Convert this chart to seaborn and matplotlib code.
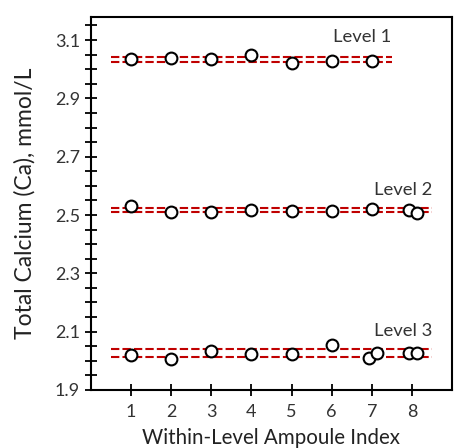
import numpy as np
import pandas as pd
import matplotlib
matplotlib.use("Agg")
import matplotlib.pyplot as plt
from matplotlib.ticker import MultipleLocator
import seaborn as sns

# ---- data ----
level1_x = [1, 2, 3, 4, 5, 6, 7]
level1_y = [3.035, 3.040, 3.035, 3.048, 3.022, 3.028, 3.028]
level2_x = [1, 2, 3, 4, 5, 6, 7, 7.92, 8.13]
level2_y = [2.530, 2.510, 2.510, 2.518, 2.514, 2.514, 2.522, 2.518, 2.507]
level3_x = [1, 2, 3, 4, 5, 6, 6.93, 7.13, 7.92, 8.13]
level3_y = [2.020, 2.006, 2.034, 2.023, 2.023, 2.053, 2.009, 2.027, 2.026, 2.026]

band_low = [3.024, 2.509, 2.013]
band_high = [3.043, 2.523, 2.039]
band_xmin = [0.5, 0.5, 0.5]
band_xmax = [7.5, 8.5, 8.5]
level_names = ["Level 1", "Level 2", "Level 3"]
label_y = [3.11, 2.585, 2.103]

x_ticks = [1, 2, 3, 4, 5, 6, 7, 8]
y_ticks = [1.9, 2.1, 2.3, 2.5, 2.7, 2.9, 3.1]

df = pd.DataFrame({
    "x": level1_x + level2_x + level3_x,
    "y": level1_y + level2_y + level3_y,
    "level": (["Level 1"] * len(level1_x) + ["Level 2"] * len(level2_x)
              + ["Level 3"] * len(level3_x)),
})

sns.set_style("ticks")
plt.rcParams["font.family"] = ["Lato", "DejaVu Sans"]

fig = plt.figure(figsize=(4.54, 4.48), dpi=100)
ax = fig.add_axes([0.2004, 0.1295, 0.7952, 0.8332])

red = "#C00000"
for lo, hi, x0, x1 in zip(band_low, band_high, band_xmin, band_xmax):
    ax.hlines([lo, hi], x0, x1, colors=red, linewidth=1.5,
              linestyles=(0, (4, 1.5)), zorder=2)

sns.scatterplot(data=df, x="x", y="y", ax=ax, marker="o", s=72,
                facecolor="white", edgecolor="black", linewidth=1.5,
                legend=False, zorder=3)

for name, ly, x1 in zip(level_names, label_y, band_xmax):
    ax.text(x1, ly, name, ha="right", va="center", fontsize=13.3, color="#333333")

ax.set_xlim(0, 9)
ax.set_ylim(1.9, 3.18)
ax.set_xticks(x_ticks)
ax.set_xticklabels([str(t) for t in x_ticks])
ax.set_yticks(y_ticks)
ax.set_yticklabels([f"{t:.1f}" for t in y_ticks])
ax.yaxis.set_minor_locator(MultipleLocator(0.05))

ax.tick_params(axis="both", which="both", direction="inout", length=8,
               width=1.3, color="black", labelsize=13, labelcolor="#333333")
ax.tick_params(axis="y", which="both", pad=4)
ax.tick_params(axis="x", which="both", pad=6)

for sp in ax.spines.values():
    sp.set_visible(True)
    sp.set_linewidth(1.5)
    sp.set_color("black")

ax.set_xlabel("Within-Level Ampoule Index", fontsize=14.8, color="#222222", labelpad=6)
ax.set_ylabel("Total Calcium (Ca), mmol/L", fontsize=16.5, color="#222222", labelpad=14)

fig.savefig("out.png", dpi=100)
